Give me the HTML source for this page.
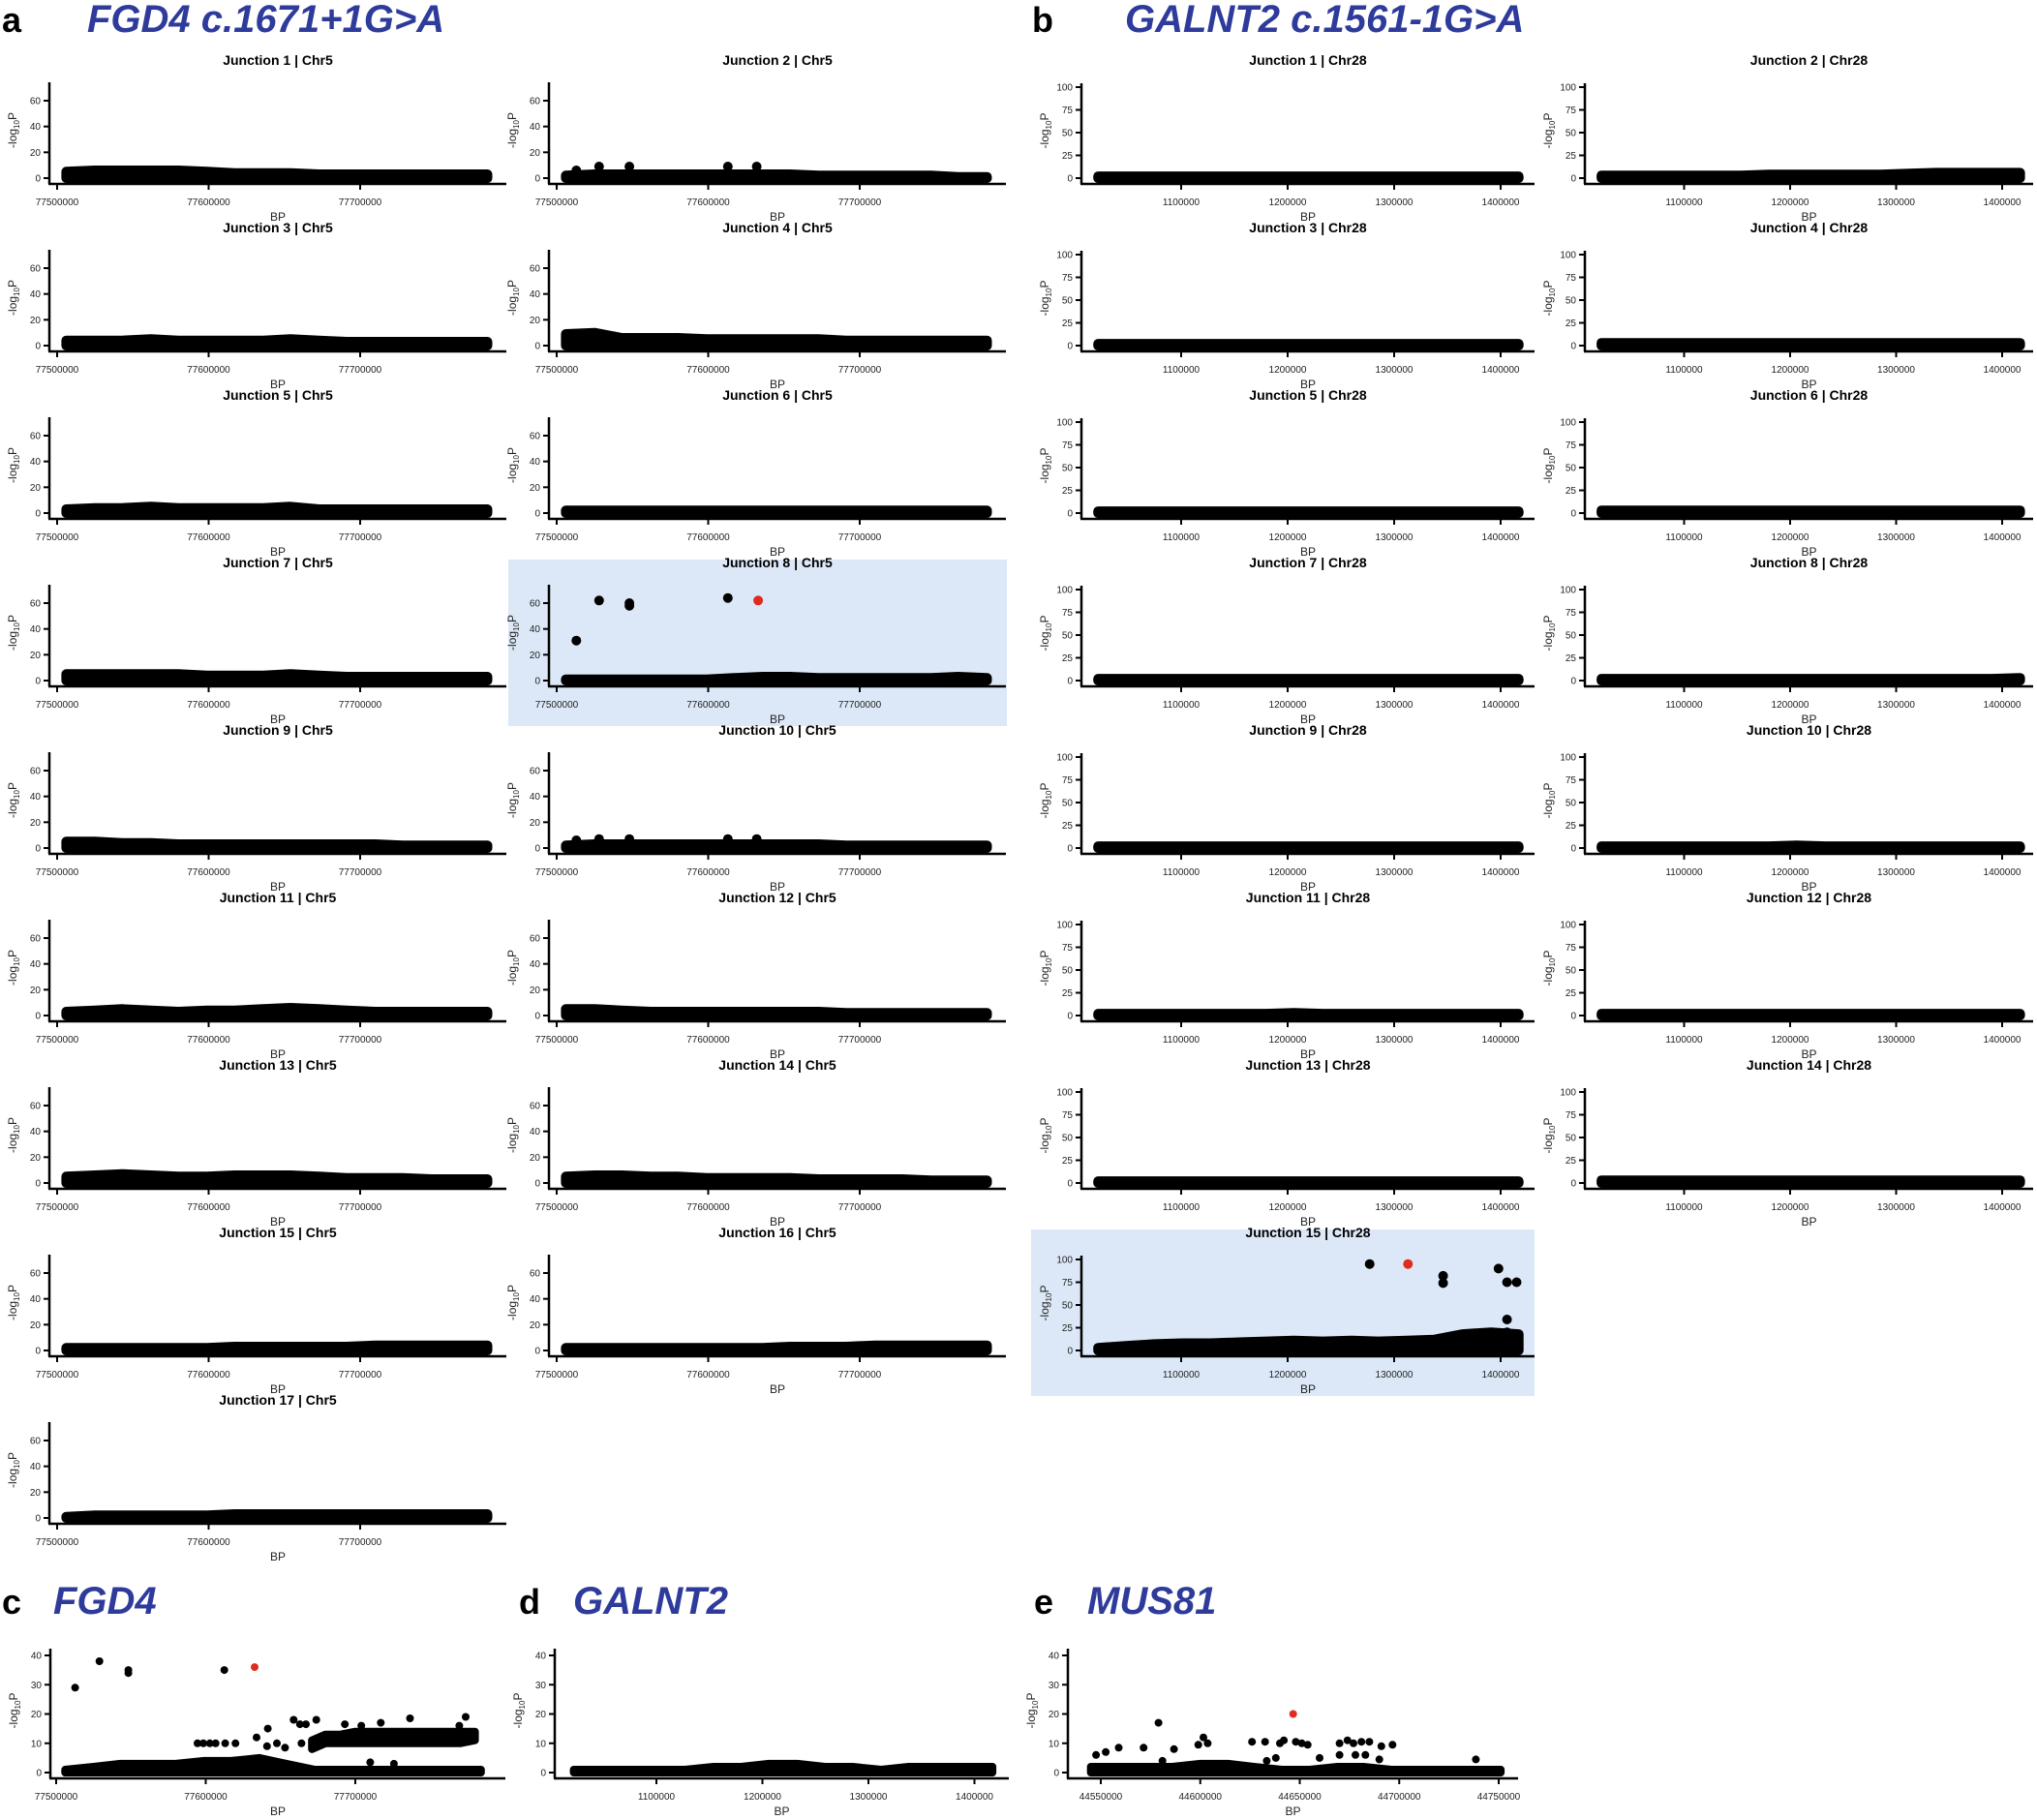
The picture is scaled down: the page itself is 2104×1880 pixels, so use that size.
<!DOCTYPE html>
<html><head><meta charset="utf-8">
<style>
html,body{margin:0;padding:0;background:#fff;}
svg{display:block;font-family:"Liberation Sans",Arial,sans-serif;}
</style></head>
<body>
<svg id="fig" width="2104" height="1880" viewBox="0 0 2104 1880" xmlns="http://www.w3.org/2000/svg">
<rect width="2104" height="1880" fill="#fff"/>
<g font-weight="bold">
<text x="2" y="33" font-size="36">a</text>
<text x="90" y="33" font-size="40" font-style="italic" fill="#2e3b9b">FGD4 c.1671+1G&gt;A</text>
<text x="1066" y="33" font-size="36">b</text>
<text x="1162" y="33" font-size="40" font-style="italic" fill="#2e3b9b">GALNT2 c.1561-1G&gt;A</text>
<text x="2" y="1667" font-size="36">c</text>
<text x="55" y="1667" font-size="40" font-style="italic" fill="#2e3b9b">FGD4</text>
<text x="536" y="1667" font-size="36">d</text>
<text x="592" y="1667" font-size="40" font-style="italic" fill="#2e3b9b">GALNT2</text>
<text x="1068" y="1667" font-size="36">e</text>
<text x="1123" y="1667" font-size="40" font-style="italic" fill="#2e3b9b">MUS81</text>
</g>
<g id="plots"></g>
</svg>
<script>
// ---------- data ----------
const A_BP = [77506000,77525000,77543000,77562000,77580000,77599000,77617000,77636000,77654000,77673000,77691000,77710000,77728000,77747000,77765000,77784000];
const B_BP = [1022000,1048000,1075000,1101000,1127000,1154000,1180000,1206000,1233000,1259000,1285000,1312000,1338000,1364000,1391000,1417000];
const E_BP = [44545000,44559000,44572000,44586000,44600000,44614000,44627000,44641000,44655000,44669000,44682000,44696000,44710000,44723000,44737000,44751000];

const aBands = [
 [5,6,6,6,6,5,4,4,4,3,3,3,3,3,3,3],
 [2,3,3,3,3,3,3,3,3,2,2,2,2,2,1,1],
 [4,4,4,5,4,4,4,4,5,4,3,3,3,3,3,3],
 [9,10,6,6,6,5,5,5,5,5,4,4,4,4,4,4],
 [3,4,4,5,4,4,4,4,5,3,3,3,3,3,3,3],
 [2,2,2,2,2,2,2,2,2,2,2,2,2,2,2,2],
 [5,5,5,5,5,4,4,4,5,4,3,3,3,3,3,3],
 [1,1,1,1,1,1,2,3,3,2,2,2,2,2,3,2],
 [5,5,4,4,3,3,3,3,3,3,3,3,2,2,2,2],
 [2,3,3,3,3,3,3,3,3,3,2,2,2,2,2,2],
 [3,4,5,4,3,4,4,5,6,5,4,3,3,3,3,3],
 [5,5,4,3,3,3,3,3,3,3,2,2,2,2,2,2],
 [5,6,7,6,5,5,6,6,6,5,4,4,4,3,3,3],
 [5,6,6,5,5,4,4,4,4,3,3,3,3,2,2,2],
 [2,2,2,2,2,2,3,3,3,3,3,4,4,4,4,4],
 [2,2,2,2,2,2,2,2,3,3,3,4,4,4,4,4],
 [1,2,2,2,2,2,3,3,3,3,3,3,3,3,3,3]
];
const a2OutBP = [77513000,77528000,77548000,77613000,77632000];
const a2OutP = [6,9,9,9,9];
const a10OutBP = [77513000,77528000,77548000,77613000,77632000];
const a10OutP = [6,7,7,7,7];
const a8OutBP = [77513000,77528000,77548000,77548000,77613000];
const a8OutP = [31,62,58,60,64];
const a8LeadBP = [77633000];
const a8LeadP = [62];

const bBands = [
 [2,2,2,2,2,2,2,2,2,2,2,2,2,2,2,2],
 [3,3,3,3,3,3,4,4,4,4,4,5,6,6,6,6],
 [2,2,2,2,2,2,2,2,2,2,2,2,2,2,2,2],
 [3,3,3,3,3,3,3,3,3,3,3,3,3,3,3,3],
 [2,2,2,2,2,2,2,2,2,2,2,2,2,2,2,2],
 [3,3,3,3,3,3,3,3,3,3,3,3,3,3,3,3],
 [2,2,2,2,2,2,2,2,2,2,2,2,2,2,2,2],
 [2,2,2,2,2,2,2,2,2,2,2,2,2,2,2,3],
 [2,2,2,2,2,2,2,2,2,2,2,2,2,2,2,2],
 [2,2,2,2,2,2,2,3,2,2,2,2,2,2,2,2],
 [2,2,2,2,2,2,2,3,2,2,2,2,2,2,2,2],
 [2,2,2,2,2,2,2,2,2,2,2,2,2,2,2,2],
 [2,2,2,2,2,2,2,2,2,2,2,2,2,2,2,2],
 [3,3,3,3,3,3,3,3,3,3,3,3,3,3,3,3],
 [3,5,7,8,8,9,10,11,10,11,10,11,12,18,20,18]
];
const b15OutBP = [1277000,1346000,1346000,1398000,1406000,1415000,1406000,1406000];
const b15OutP = [95,82,74,90,75,75,34,20];
const b15LeadBP = [1313000];
const b15LeadP = [95];

const cLowBand = [1,2,3,3,3,4,4,5,3,1,1,1,1,1,1,1];
const cHighBP = [77671000,77680000,77690000,77700000,77710000,77720000,77730000,77740000,77750000,77760000,77770000,77780000];
const cHighTop = [11,13,13,14,14,14,14,14,14,14,14,14];
const cHighBottom = [8,10,10,10,10,10,10,10,10,10,10,11];
const cOutBP = [77512700,77528900,77548300,77548300,77612400,77594500,77598400,77602700,77606600,77613000,77619900,77634000,77641500,77641000,77647600,77653000,77658800,77663000,77667000,77664000,77673900,77693000,77704000,77710000,77717000,77725800,77736600,77773800,77769500];
const cOutP = [29,38,35,34,35,10,10,10,10,10,10,12,15,9,10,8.5,18,16.5,16.5,10,18,16.5,16,3.5,17,3,18.5,19,16];
const cLeadBP = [77632700];
const cLeadP = [36];

const dBand = [1,1,1,1,1,2,2,3,3,2,2,1,2,2,2,2];

const eBand = [2,2,2,2,3,3,2,1,1,2,2,1,1,1,1,1];
const eOutBP = [44547600,44552500,44559000,44571500,44579000,44581000,44586800,44599000,44601600,44603700,44626000,44632600,44633400,44638000,44640000,44642000,44648000,44651000,44654000,44660000,44670000,44670000,44674000,44677000,44678000,44681000,44683000,44685000,44690000,44691000,44696600,44738500];
const eOutP = [6,7,8.5,8.5,17,4,8,9.5,12,10,10.5,10.5,4,5,10,11,10.5,10,9.5,5,10,6,11,10,6,10.5,6,10.5,4.5,9,9.5,4.5];
const eLeadBP = [44646700];
const eLeadP = [20];

const aXTicks = [77500000,77600000,77700000];
const aYTicks = [0,20,40,60];
const bXTicks = [1100000,1200000,1300000,1400000];
const bYTicks = [0,25,50,75,100];
const cdYTicks = [0,10,20,30,40];
const eXTicks = [44550000,44600000,44650000,44700000,44750000];

// ---------- drawing ----------
const NS = "http://www.w3.org/2000/svg";
const root = document.getElementById('plots');
function mk(tag, attrs, parent){
  const e = document.createElementNS(NS, tag);
  for (const k in attrs) e.setAttribute(k, attrs[k]);
  (parent||root).appendChild(e);
  return e;
}

function drawPanel(p){
  const g = mk('g', {});
  
  
  const X = bp => p.refPx + (bp - p.refBP) * p.pxPerBP;
  const Y = v => p.y0 - v * p.pxPerUnit;
  const axY = p.y0 + 6;
  if (p.highlight){
    const h = mk('rect', {x:p.highlight[0], y:p.highlight[1], width:p.highlight[2], height:p.highlight[3], fill:'#dce8f7'}, g);
    
    
  }
  if (p.title){
    const t = mk('text', {x:(p.axisX+p.xEnd)/2, y:p.titleY, 'font-size':14, 'font-weight':'bold', 'text-anchor':'middle'}, g);
    t.textContent = p.title;
    
    
  }
  const r = p.r;
  function band(bps, tops, bottoms){
    let pts = [];
    for (let i=0;i<bps.length;i++) pts.push(X(bps[i]).toFixed(1)+','+Y(tops[i]).toFixed(1));
    for (let i=bps.length-1;i>=0;i--) pts.push(X(bps[i]).toFixed(1)+','+Y(bottoms?bottoms[i]:0).toFixed(1));
    const b = mk('polygon', {points:pts.join(' '), fill:'#000', stroke:'#000', 'stroke-width':2*r, 'stroke-linejoin':'round'}, g);
    
    
  }
  (p.bands||[]).forEach(b => band(b[0], b[1], b[2]));
  function dots(bps, vals, color, nm){
    for (let i=0;i<bps.length;i++){
      const c = mk('circle', {cx:X(bps[i]).toFixed(1), cy:Y(vals[i]).toFixed(1), r:r, fill:color}, g);
      
      
    }
  }
  (p.points||[]).forEach(s => dots(s[0], s[1], '#000', 'snp-point'));
  (p.leads||[]).forEach(s => dots(s[0], s[1], '#e02b20', 'lead-snp-point'));
  const ya = mk('line', {x1:p.axisX, y1:p.yTop, x2:p.axisX, y2:axY, stroke:'#000', 'stroke-width':2.5}, g);
  
  
  const xa = mk('line', {x1:p.axisX-1, y1:axY, x2:p.xEnd, y2:axY, stroke:'#000', 'stroke-width':2.5}, g);
  
  
  p.yTicks.forEach(v => {
    mk('line', {x1:p.axisX-6, y1:Y(v), x2:p.axisX, y2:Y(v), stroke:'#000', 'stroke-width':2}, g);
    const t = mk('text', {x:p.axisX-9, y:Y(v)+3.5, 'font-size':10, 'text-anchor':'end', fill:'#222'}, g);
    t.textContent = v;
    
    
  });
  p.xTicks.forEach(v => {
    mk('line', {x1:X(v), y1:axY, x2:X(v), y2:axY+6, stroke:'#000', 'stroke-width':2}, g);
    const t = mk('text', {x:X(v), y:axY+22, 'font-size':10, 'text-anchor':'middle', fill:'#222'}, g);
    t.textContent = v;
    
    
  });
  const bl = mk('text', {x:(p.axisX+p.xEnd)/2, y:axY+38, 'font-size':12, 'text-anchor':'middle', fill:'#222'}, g);
  bl.textContent = 'BP';
  
  
  const cy = (p.yTop + p.y0)/2;
  const yl = mk('text', {x:0, y:0, 'font-size':12, 'text-anchor':'middle', fill:'#222', transform:'translate('+(p.axisX-34)+','+cy+') rotate(-90)'}, g);
  
  
  yl.innerHTML = '-log<tspan font-size="8" dy="3">10</tspan><tspan dy="-3">P</tspan>';
}

for (let j=0;j<17;j++){
  const col = j%2, row = Math.floor(j/2);
  const off = row*173;
  const p = {
    name:'panel-a-junction-'+(j+1), title:'Junction '+(j+1)+' | Chr5', titleY:67+off,
    axisX:51+516*col, xEnd:523+516*col, refBP:77500000, refPx:59+516*col, pxPerBP:156.5/100000,
    y0:184+off, yTop:85+off, pxPerUnit:80/60, r:5,
    yTicks:aYTicks, xTicks:aXTicks,
    bands:[[A_BP, aBands[j]]], points:[], leads:[]
  };
  if (j===1) p.points.push([a2OutBP,a2OutP]);
  if (j===9) p.points.push([a10OutBP,a10OutP]);
  if (j===7){ p.points.push([a8OutBP,a8OutP]); p.leads.push([a8LeadBP,a8LeadP]); p.highlight=[525,578,515,172]; }
  drawPanel(p);
}
for (let j=0;j<15;j++){
  const col = j%2, row = Math.floor(j/2);
  const off = row*173;
  const p = {
    name:'panel-b-junction-'+(j+1), title:'Junction '+(j+1)+' | Chr28', titleY:67+off,
    axisX:col?1637:1117, xEnd:col?2100:1585, refBP:1000000, refPx:col?1630:1110, pxPerBP:(col?109.5:110)/100000,
    y0:184+off, yTop:86+off, pxPerUnit:0.94, r:5,
    yTicks:bYTicks, xTicks:bXTicks,
    bands:[[B_BP, bBands[j]]], points:[], leads:[]
  };
  if (j===14){ p.points.push([b15OutBP,b15OutP]); p.leads.push([b15LeadBP,b15LeadP]); p.highlight=[1065,1270,520,172]; }
  drawPanel(p);
}
drawPanel({name:'panel-c-plot', axisX:52, xEnd:522, refBP:77500000, refPx:58, pxPerBP:154.5/100000,
  y0:1831, yTop:1703, pxPerUnit:121/40, r:4, yTicks:cdYTicks, xTicks:aXTicks,
  bands:[[A_BP,cLowBand],[cHighBP,cHighTop,cHighBottom]], points:[[cOutBP,cOutP]], leads:[[cLeadBP,cLeadP]]});
drawPanel({name:'panel-d-plot', axisX:573, xEnd:1042, refBP:1000000, refPx:568.5, pxPerBP:109.5/100000,
  y0:1831, yTop:1703, pxPerUnit:121/40, r:4, yTicks:cdYTicks, xTicks:bXTicks,
  bands:[[B_BP,dBand]], points:[], leads:[]});
drawPanel({name:'panel-e-plot', axisX:1103, xEnd:1568, refBP:44550000, refPx:1137, pxPerBP:102.75/50000,
  y0:1831, yTop:1703, pxPerUnit:121/40, r:4, yTicks:cdYTicks, xTicks:eXTicks,
  bands:[[E_BP,eBand]], points:[[eOutBP,eOutP]], leads:[[eLeadBP,eLeadP]]});
</script>
</body></html>
